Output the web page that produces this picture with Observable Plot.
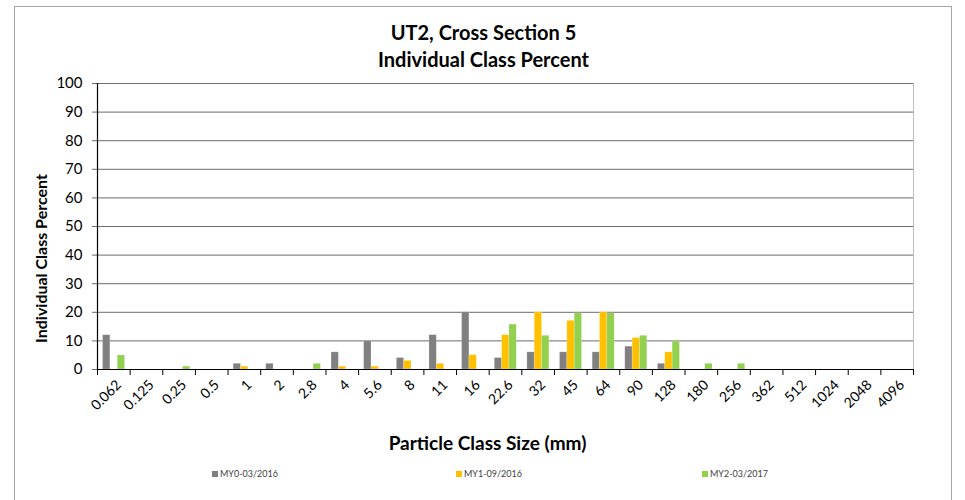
<!DOCTYPE html>
<html>
<head>
<meta charset="utf-8">
<script src="https://cdn.jsdelivr.net/npm/d3@7"></script>
<script src="https://cdn.jsdelivr.net/npm/@observablehq/plot@0.6"></script>
<style>
  html, body { margin: 0; padding: 0; background: #fff; }
  #page { position: relative; width: 965px; height: 500px; overflow: hidden; font-family: Lato, "Open Sans", sans-serif; }
  #border { position: absolute; left: 14px; top: 6px; width: 936px; height: 520px; border: 1px solid #a6a6a6; border-bottom: none; }
  #chart { position: absolute; left: 0; top: 0; }
  #legend { position: absolute; left: 0; top: 468px; width: 965px; height: 16px; font-size: 9px; color: #404040; }
  .item { position: absolute; top: 0; display: flex; align-items: center; gap: 2px; white-space: nowrap; }
  .sw { width: 6px; height: 6px; display: inline-block; }
</style>
</head>
<body>
<div id="page">
  <div id="border"></div>
  <div id="chart"></div>
  <div id="legend"></div>
</div>
<script>
const sizes = ["0.062","0.125","0.25","0.5","1","2","2.8","4","5.6","8","11","16","22.6","32","45","64","90","128","180","256","362","512","1024","2048","4096"];
const my0 = [12,0,0,0,2,2,0,6,10,4,12,20,4,6,6,6,8,2,0,0,0,0,0,0,0];
const my1 = [0,0,0,0,1,0,0,1,1,3,2,5,12,20,17,20,11,6,0,0,0,0,0,0,0];
const my2 = [4.9,0,1,0,0,0,2,0,0,0,0,0,15.7,11.8,19.6,19.6,11.8,9.8,2,2,0,0,0,0,0];
const seriesNames = ["MY0-03/2016","MY1-09/2016","MY2-03/2017"];
const seriesColors = ["#808080","#FFC000","#92D050"];
const yTicks = [0,10,20,30,40,50,60,70,80,90,100];
const title1 = "UT2, Cross Section 5";
const title2 = "Individual Class Percent";
const yTitle = "Individual Class Percent";
const xTitle = "Particle Class Size (mm)";

const W = 965, H = 460;
const mL = 97, mR = 52, mT = 83, mB = H - 369;
const step = (W - mL - mR) / sizes.length;
const barW = step * 0.225;
const groupStart = step * 0.17;

const seriesValues = [my0, my1, my2];
const barMarks = seriesValues.map((vals, i) => {
  const rows = sizes.map((s, k) => ({size: s, value: vals[k]})).filter(d => d.value > 0);
  return Plot.barY(rows, {
    x: "size", y: "value", fill: seriesColors[i],
    insetLeft: groupStart + i * barW,
    insetRight: step - (groupStart + (i + 1) * barW),
    stroke: "#ffffff", strokeOpacity: 0.35, strokeWidth: 0.6
  });
});

const chart = Plot.plot({
  width: W, height: H,
  marginLeft: mL, marginRight: mR, marginTop: mT, marginBottom: mB,
  style: {fontFamily: "Lato, 'Open Sans', sans-serif", background: "transparent", color: "#000"},
  x: {domain: sizes, padding: 0, round: false},
  y: {domain: [0, 100]},
  marks: [
    Plot.ruleY(yTicks, {stroke: "#6b6b6b", strokeWidth: 1, insetLeft: -5}),
    Plot.frame({anchor: "right", stroke: "#bdbdbd"}),
    ...barMarks,
    Plot.ruleY([0], {stroke: "#000", strokeWidth: 1.2}),
    Plot.frame({anchor: "left", stroke: "#000", strokeWidth: 1.2}),
    Plot.ruleX(sizes, {x: d => d, dx: -step / 2, y1: 0, y2: 0, insetBottom: -6, stroke: "#000"}),
    Plot.ruleX([sizes[sizes.length - 1]], {x: d => d, dx: step / 2, y1: 0, y2: 0, insetBottom: -6, stroke: "#000"}),
    Plot.axisY({ticks: yTicks, tickSize: 0, tickPadding: 15, fontSize: 15, label: null, fill: "#000"}),
    Plot.axisX({tickSize: 0, tickRotate: -45, tickPadding: 13, fontSize: 14, label: null, dx: 5, fill: "#000"}),
    Plot.text([yTitle], {text: d => d, frameAnchor: "left", textAnchor: "middle", lineAnchor: "middle", rotate: -90, dx: -56, dy: 32, fontSize: 16, fontWeight: "bold", fill: "#000"}),
    Plot.text([xTitle], {text: d => d, frameAnchor: "bottom", lineAnchor: "middle", dx: -18, dy: 74, fontSize: 19, fontWeight: "bold", fill: "#000"}),
    Plot.text([title1], {text: d => d, frameAnchor: "top", lineAnchor: "middle", dx: -22, dy: -50, fontSize: 20, fontWeight: "bold", fill: "#000"}),
    Plot.text([title2], {text: d => d, frameAnchor: "top", lineAnchor: "middle", dx: -22, dy: -23, fontSize: 20, fontWeight: "bold", fill: "#000"})
  ]
});
document.getElementById("chart").appendChild(chart);

const legendX = [212, 456, 702];
const legend = document.getElementById("legend");
seriesNames.forEach((name, i) => {
  const item = document.createElement("div");
  item.className = "item";
  item.style.left = legendX[i] + "px";
  const sw = document.createElement("span");
  sw.className = "sw";
  sw.style.background = seriesColors[i];
  const t = document.createElement("span");
  t.textContent = name;
  item.appendChild(sw);
  item.appendChild(t);
  legend.appendChild(item);
});
</script>
</body>
</html>
